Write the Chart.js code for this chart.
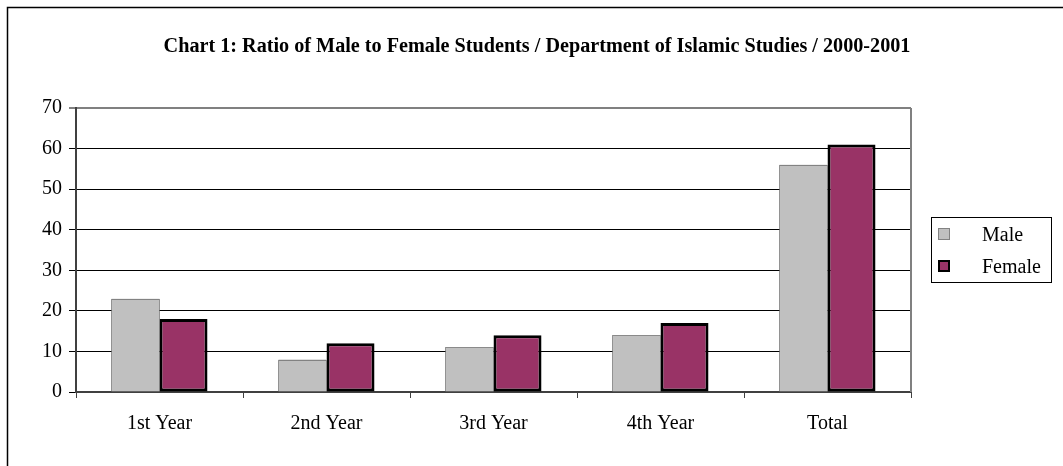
<!DOCTYPE html>
<html>
<head>
<meta charset="utf-8">
<script src="https://cdn.jsdelivr.net/npm/chart.js@4/dist/chart.umd.min.js"></script>
<style>
  html, body { margin: 0; padding: 0; background: #fff; }
  #wrap { position: relative; width: 1063px; height: 466px; }
</style>
</head>
<body>
<div id="wrap"><canvas id="ratioChart"></canvas></div>
<script>
const years = ["1st Year", "2nd Year", "3rd Year", "4th Year", "Total"];
const male = [23, 8, 11, 14, 56];
const female = [18, 12, 14, 17, 61];
const seriesNames = ["Male", "Female"];
const yTicks = [0, 10, 20, 30, 40, 50, 60, 70];
const titleText = "Chart 1: Ratio of Male to Female Students / Department of Islamic Studies / 2000-2001";

const serif = "'Liberation Serif', 'Times New Roman', serif";
const maleFill = "#c0c0c0";
const femaleFill = "#993366";

// page frame, title, plot border and the dotted edges of the grey bars
const extras = {
    id: "extras",
    beforeDraw(chart) {
        const ctx = chart.ctx;
        ctx.save();
        ctx.fillStyle = "#fff";
        ctx.fillRect(0, 0, chart.width, chart.height);
        ctx.strokeStyle = "#000";
        ctx.lineWidth = 1.5;
        ctx.beginPath();
        ctx.moveTo(7.5, chart.height);
        ctx.lineTo(7.5, 7.5);
        ctx.lineTo(chart.width, 7.5);
        ctx.stroke();

        ctx.fillStyle = "#000";
        ctx.font = "bold 20.2px " + serif;
        ctx.textAlign = "center";
        ctx.textBaseline = "alphabetic";
        ctx.fillText(titleText, 537, 52);
        ctx.restore();
    },
    beforeDatasetsDraw(chart) {
        const a = chart.chartArea;
        const ctx = chart.ctx;
        ctx.save();
        ctx.strokeStyle = "#808080";
        ctx.lineWidth = 2;
        ctx.beginPath();
        ctx.moveTo(a.right, a.top);
        ctx.lineTo(a.right, a.bottom);
        ctx.stroke();
        ctx.restore();
    },
    afterDatasetsDraw(chart) {
        const ctx = chart.ctx;
        const meta = chart.getDatasetMeta(0);
        ctx.save();
        ctx.strokeStyle = "#444";
        ctx.lineWidth = 1;
        ctx.setLineDash([1, 1]);
        meta.data.forEach(bar => {
            const l = Math.round(bar.x - bar.width / 2) + 0.5;
            const r = Math.round(bar.x + bar.width / 2) - 0.5;
            const t = Math.round(bar.y) + 0.5;
            const b = Math.round(bar.base) - 0.5;
            ctx.strokeRect(l, t, r - l, b - t);
        });
        ctx.restore();

        // legend
        ctx.save();
        ctx.strokeStyle = "#000";
        ctx.lineWidth = 1;
        ctx.strokeRect(931.5, 217.5, 120, 65);
        ctx.fillStyle = maleFill;
        ctx.fillRect(938, 228, 12, 12);
        ctx.strokeStyle = "#444";
        ctx.setLineDash([1, 1]);
        ctx.strokeRect(938.5, 228.5, 11, 11);
        ctx.setLineDash([]);
        ctx.fillStyle = femaleFill;
        ctx.fillRect(938, 260, 12, 12);
        ctx.strokeStyle = "#000";
        ctx.lineWidth = 2;
        ctx.strokeRect(939, 261, 10, 10);
        ctx.fillStyle = "#000";
        ctx.font = "20px " + serif;
        ctx.textAlign = "left";
        ctx.textBaseline = "alphabetic";
        ctx.fillText(seriesNames[0], 982, 241);
        ctx.fillText(seriesNames[1], 982, 273);
        ctx.restore();
    }
};

new Chart(document.getElementById("ratioChart"), {
    type: "bar",
    data: {
        labels: years,
        datasets: [{
            label: seriesNames[0],
            data: male,
            backgroundColor: maleFill,
            borderWidth: 0
        }, {
            label: seriesNames[1],
            data: female,
            backgroundColor: femaleFill,
            borderColor: "#000",
            borderWidth: 3,
            borderSkipped: false
        }]
    },
    options: {
        responsive: true,
        maintainAspectRatio: false,
        animation: false,
        layout: { padding: { left: 0, right: 152, top: 108, bottom: 0 } },
        datasets: { bar: { categoryPercentage: 0.575, barPercentage: 1 } },
        plugins: {
            legend: { display: false },
            title: { display: false },
            tooltip: { enabled: false }
        },
        scales: {
            x: {
                afterFit: s => { s.height = 74; },
                border: { color: "#404040", width: 2 },
                grid: { drawOnChartArea: false, drawTicks: true, tickLength: 6, color: "#404040", offset: true },
                ticks: { color: "#000", font: { family: serif, size: 20 }, padding: 14 }
            },
            y: {
                min: 0,
                max: 70,
                afterFit: s => { s.width = 76; },
                afterBuildTicks: s => { s.ticks = yTicks.map(v => ({ value: v })); },
                border: { color: "#404040", width: 2 },
                grid: {
                    color: ctx => ctx.tick && ctx.tick.value === 70 ? "#808080" : "#000",
                    lineWidth: ctx => ctx.tick && ctx.tick.value === 70 ? 2 : 1,
                    tickLength: 7
                },
                ticks: { color: "#000", font: { family: serif, size: 20 }, padding: 7 }
            }
        }
    },
    plugins: [extras]
});
</script>
</body>
</html>
